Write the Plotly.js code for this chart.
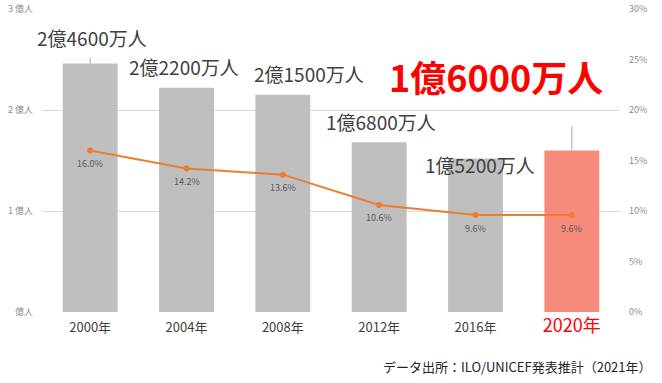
<!DOCTYPE html>
<html><head><meta charset="utf-8">
<script src="https://cdn.plot.ly/plotly-3.0.1.min.js"></script>
<style>html,body{margin:0;padding:0;background:#fff}#c{width:662px;height:383px}</style>
</head><body><div id="c"></div>
<script>
const categories = ['2000年','2004年','2008年','2012年','2016年','2020年'];
const children = [2.46, 2.22, 2.15, 1.68, 1.52, 1.60];           // 億人
const childrenUpper = [0.06, 0, 0, 0, 0, 0.24];                   // error bar (+)
const rates = [0.160, 0.142, 0.136, 0.106, 0.096, 0.096];
const rateLabels = ['16.0%','14.2%','13.6%','10.6%','9.6%','9.6%'];
const valueLabels = ['2億4600万人','2億2200万人','2億1500万人','1億6800万人','1億5200万人','1億6000万人'];
const leftTickVals = [0, 1, 2, 3];
const leftTickText = ['億人', '1 億人', '2 億人', '3 億人'];
const sourceText = 'データ出所：ILO/UNICEF発表推計（2021年）';

const FONT = '"Noto Sans CJK JP", "Noto Sans", sans-serif';
const barColors = categories.map((c, i) => i === categories.length - 1 ? '#F78B7B' : '#BFBFBF');
const tickText = categories.map((c, i) => i === categories.length - 1
  ? '<span style="color:#FF0000;font-size:18px">' + c + '</span>' : c);

const bars = {
  type: 'bar', x: categories, y: children, marker: {color: barColors},
  error_y: {type: 'data', symmetric: false, array: childrenUpper,
            arrayminus: categories.map(() => 0), color: '#A6A6A6', thickness: 1, width: 0},
  hoverinfo: 'skip', showlegend: false
};
const line = {
  type: 'scatter', mode: 'lines+markers', x: categories, y: rates, yaxis: 'y2',
  line: {color: '#ED7D31', width: 2}, marker: {color: '#ED7D31', size: 6},
  showlegend: false, cliponaxis: false
};

// label placement (style/offsets only)
const labelPos = [
  {y: 2.72, dx: 2}, {y: 2.43, dx: -3}, {y: 2.36, dx: 26},
  {y: 1.89, dx: 2}, {y: 1.46, dx: 4}, {y: 2.34, dx: -76}
];
const annotations = valueLabels.map((t, i) => {
  const last = i === valueLabels.length - 1;
  return {
    x: categories[i], y: labelPos[i].y, xref: 'x', yref: 'y', text: t,
    showarrow: false, xshift: labelPos[i].dx, xanchor: 'center', yanchor: 'middle',
    font: last ? {family: FONT, size: 36, color: '#FF0000', weight: 'bold'}
               : {family: FONT, size: 19, color: '#404040'}
  };
});
rateLabels.forEach((t, i) => {
  annotations.push({
    x: categories[i], y: rates[i], xref: 'x', yref: 'y2', text: t, showarrow: false,
    xanchor: 'center', yanchor: 'middle', yshift: -13,
    font: {family: FONT, size: 9, color: '#595959'}
  });
});
annotations.push({
  x: 1, xref: 'paper', xanchor: 'right', xshift: 34, y: -0.18, yref: 'paper', yanchor: 'middle',
  text: sourceText, showarrow: false, font: {family: FONT, size: 13, color: '#262626'}
});

const layout = {
  width: 662, height: 383,
  margin: {l: 42, r: 42, t: 9, b: 71},
  paper_bgcolor: '#ffffff', plot_bgcolor: '#ffffff',
  bargap: 0.43,
  font: {family: FONT},
  xaxis: {
    type: 'category', tickvals: categories, ticktext: tickText, automargin: false,
    range: [-0.5, categories.length - 0.5], autorange: false,
    tickfont: {family: FONT, size: 13, color: '#404040'},
    showgrid: false, zeroline: false, showline: false, ticks: '', ticklabelstandoff: 6
  },
  yaxis: {
    range: [0, 3], tickvals: leftTickVals, ticktext: leftTickText, automargin: false,
    tickfont: {family: FONT, size: 9, color: '#8C8C8C'},
    showgrid: true, gridcolor: '#D9D9D9', gridwidth: 1, zeroline: false, showline: false,
    ticks: '', ticklabelstandoff: 8
  },
  yaxis2: {
    overlaying: 'y', side: 'right', range: [0, 0.30], dtick: 0.05, tickformat: '.0%',
    automargin: false,
    tickfont: {family: FONT, size: 9, color: '#8C8C8C'},
    showgrid: false, zeroline: false, showline: false, ticks: '', ticklabelstandoff: 8
  },
  annotations: annotations
};

Plotly.newPlot('c', [bars, line], layout, {staticPlot: true, displayModeBar: false});
</script></body></html>
